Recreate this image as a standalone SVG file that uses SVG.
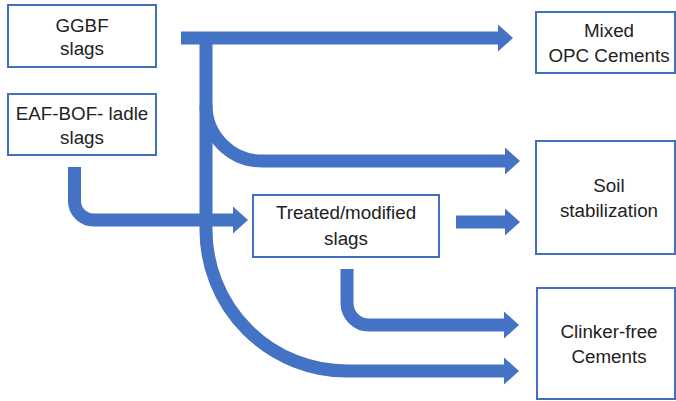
<svg xmlns="http://www.w3.org/2000/svg" width="676" height="401" viewBox="0 0 676 401">
  <defs>
    <style>
      .box { fill: #ffffff; stroke: #4270BE; stroke-width: 2; }
      .lbl { font-family: "Liberation Sans", Arial, sans-serif; font-size: 18.8px; fill: #222222; text-anchor: middle; }
      .flow { fill: none; stroke: #4472C4; stroke-width: 13; stroke-linecap: butt; }
    </style>
    <marker id="head" markerUnits="userSpaceOnUse" markerWidth="16" markerHeight="28" refX="0" refY="13.5" orient="auto">
      <path d="M0,0 L15,13.5 L0,27 Z" fill="#4472C4"/>
    </marker>
  </defs>

  <rect width="676" height="401" fill="#ffffff"/>

  <!-- connectors -->
  <g id="connectors">
    <path class="flow" d="M181,38 H498" stroke-width="14" marker-end="url(#head)"/>
    <path class="flow" d="M206,33 V230 A141,141 0 0 0 347,371 H504" marker-end="url(#head)"/>
    <path class="flow" d="M206,105 A56,56 0 0 0 262,161 H505" marker-end="url(#head)"/>
    <path class="flow" d="M74.5,167 V201 A19,19 0 0 0 93.5,220 H233" marker-end="url(#head)"/>
    <path class="flow" d="M456,222 H505" marker-end="url(#head)"/>
    <path class="flow" d="M347,269 V303 A22,22 0 0 0 369,325 H504" marker-end="url(#head)"/>
  </g>

  <!-- source nodes -->
  <g id="ggbf">
    <rect class="box" x="8" y="5" width="148" height="62"/>
    <text class="lbl" x="82" y="32">GGBF</text>
    <text class="lbl" x="82" y="55">slags</text>
  </g>
  <g id="eaf-bof">
    <rect class="box" x="8" y="94" width="148" height="61"/>
    <text class="lbl" x="82" y="120">EAF-BOF- ladle</text>
    <text class="lbl" x="82" y="144">slags</text>
  </g>
  <g id="treated">
    <rect class="box" x="253" y="195" width="186" height="62"/>
    <text class="lbl" x="346" y="219">Treated/modified</text>
    <text class="lbl" x="346" y="245">slags</text>
  </g>

  <!-- applications -->
  <g id="mixed-opc">
    <rect class="box" x="536" y="12" width="139" height="61"/>
    <text class="lbl" x="609" y="37">Mixed</text>
    <text class="lbl" x="609" y="62">OPC Cements</text>
  </g>
  <g id="soil">
    <rect class="box" x="536" y="141" width="139" height="113"/>
    <text class="lbl" x="609" y="192">Soil</text>
    <text class="lbl" x="609" y="217">stabilization</text>
  </g>
  <g id="clinker-free">
    <rect class="box" x="537" y="288" width="138" height="111"/>
    <text class="lbl" x="609" y="338">Clinker-free</text>
    <text class="lbl" x="609" y="363">Cements</text>
  </g>
</svg>
